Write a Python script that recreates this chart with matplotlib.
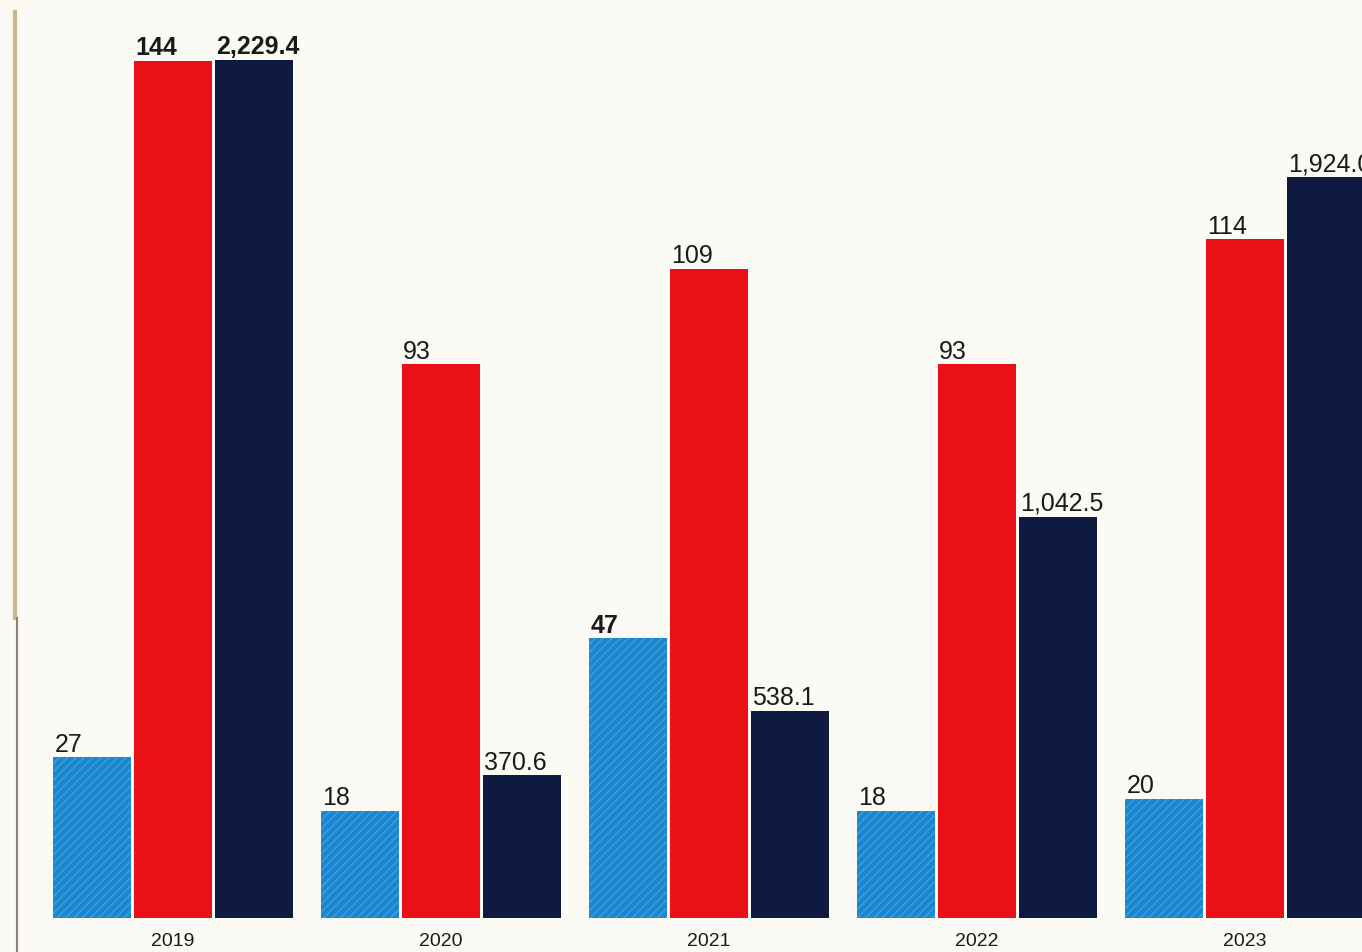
import numpy as np
import matplotlib.pyplot as plt

years = ["2019", "2020", "2021", "2022", "2023"]
blue_vals = [27, 18, 47, 18, 20]
red_vals = [144, 93, 109, 93, 114]
navy_vals = [2229.4, 370.6, 538.1, 1042.5, 1924.0]

blue_labels = ["27", "18", "47", "18", "20"]
red_labels = ["144", "93", "109", "93", "114"]
navy_labels = ["2,229.4", "370.6", "538.1", "1,042.5", "1,924.0"]
bold_blue = [False, False, True, False, False]
bold_red = [True, False, False, False, False]
bold_navy = [True, False, False, False, False]

c_blue = "#1c86cf"
c_red = "#ea1018"
c_navy = "#0e1a40"
bg = "#fbfaf4"

plt.rcParams['font.family'] = ['Liberation Sans Narrow', 'Liberation Sans', 'DejaVu Sans']

fig = plt.figure(figsize=(13.62, 9.52), dpi=100, facecolor=bg)
ax = fig.add_axes([0, 34 / 952, 1, 918 / 952])
ax2 = ax.twinx()
ax.set_facecolor(bg)

x = np.arange(len(years))
step = 0.302
w = 0.292

ax.bar(x - step, blue_vals, w, color=c_blue, hatch="////", edgecolor="#3ea0e0", linewidth=0)
ax.bar(x, red_vals, w, color=c_red, linewidth=0)
ax2.bar(x + step, navy_vals, w, color=c_navy, linewidth=0)

ax.set_xlim(-173 / 268, (1362 - 173) / 268)
ax.set_ylim(0, 154.2)
ax2.set_ylim(0, 2385)

for i in range(len(years)):
    ax.text(x[i] - step - w / 2 + 0.005, blue_vals[i] + 0.1, blue_labels[i], ha="left", va="bottom",
            fontsize=18, fontweight="bold" if bold_blue[i] else "normal", color="#1a1a1a")
    ax.text(x[i] - w / 2 + 0.005, red_vals[i] + 0.1, red_labels[i], ha="left", va="bottom",
            fontsize=18, fontweight="bold" if bold_red[i] else "normal", color="#1a1a1a")
    ax2.text(x[i] + step - w / 2 + 0.005, navy_vals[i] + 2, navy_labels[i], ha="left", va="bottom",
             fontsize=18, fontweight="bold" if bold_navy[i] else "normal", color="#1a1a1a")
    ax.text(x[i], -4.0, years[i], ha="center", va="center", fontsize=14, color="#1a1a1a")

for a in (ax, ax2):
    a.set_xticks([])
    a.set_yticks([])
    for s in a.spines.values():
        s.set_visible(False)

# scanned page edge on the left
ax.plot([15 / 1362, 15 / 1362], [(918 - 12) / 918, 300 / 918], transform=ax.transAxes,
        color="#c9b98a", lw=3, clip_on=False)
ax.plot([17 / 1362, 17 / 1362], [300 / 918, -34 / 918], transform=ax.transAxes,
        color="#8a8478", lw=1.5, clip_on=False)

fig.savefig("out.png", dpi=100, facecolor=bg)
